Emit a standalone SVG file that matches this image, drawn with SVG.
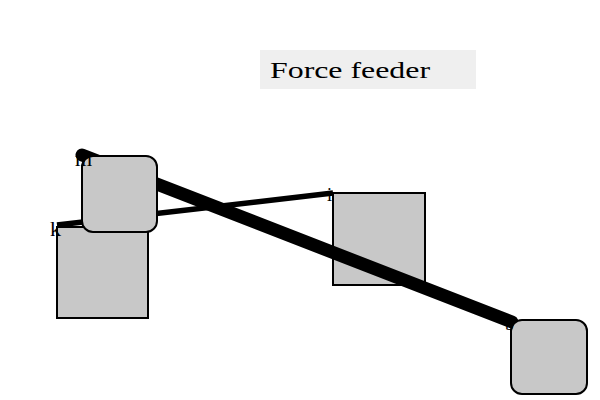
<svg xmlns="http://www.w3.org/2000/svg" width="600" height="400" viewBox="0 0 600 400">
<style>
.sq{fill:#c8c8c8;stroke:#000;stroke-width:2}
.lbl{font-family:"Liberation Serif","DejaVu Serif",serif;fill:#000}
.ln{stroke:#000;fill:none}
</style>
<rect width="600" height="400" fill="#fff"/>
<g id="title">
<rect x="260" y="50" width="216" height="39" fill="#efefef"/>
<text class="lbl" x="270" y="78" font-size="24" textLength="160" lengthAdjust="spacingAndGlyphs">Force feeder</text>
</g>
<g id="k">
<rect class="sq" x="57" y="227" width="91" height="91"/>
</g>
<g id="i">
<rect class="sq" x="333" y="193" width="92" height="92"/>
</g>
<g id="connectors">
<line class="ln" x1="57" y1="225" x2="333" y2="193" stroke-width="5.5"/>
<line class="ln" x1="82" y1="155" x2="512" y2="322" stroke-width="13" stroke-linecap="round"/>
</g>
<g id="m">
<rect class="sq" x="82" y="156" width="75" height="76" rx="11"/>
</g>
<g id="b">
<rect class="sq" x="511" y="320" width="76" height="74" rx="11"/>
</g>
<g id="labels">
<text class="lbl" x="75" y="166" font-size="22">m</text>
<text class="lbl" x="50" y="236" font-size="22">k</text>
<text class="lbl" x="327" y="201" font-size="18">i</text>
<text class="lbl" x="505" y="330" font-size="18">b</text>
</g>
</svg>
